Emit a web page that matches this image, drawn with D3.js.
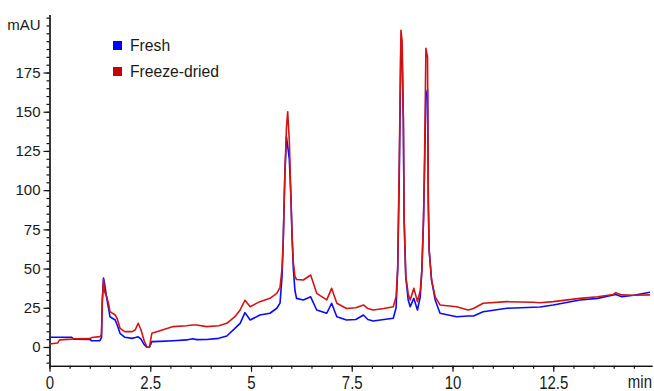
<!DOCTYPE html>
<html>
<head>
<meta charset="utf-8">
<script src="https://cdn.jsdelivr.net/npm/d3@7"></script>
<style>
  body { margin: 0; background: #fff; }
  svg { display: block; font-family: "Liberation Sans", Arial, sans-serif; }
</style>
</head>
<body>
<div id="chart"></div>
<script>
// retention time (min)
const times = [
  0, 0.2, 0.25, 0.55, 0.6, 1.0, 1.05, 1.25, 1.29, 1.31, 1.34, 1.37, 1.42, 1.47, 1.5, 1.63, 1.68, 1.75, 1.87,
  2.05, 2.13, 2.2, 2.27, 2.35, 2.42, 2.48, 2.54, 2.74, 3.07, 3.4, 3.55, 3.65, 3.9, 4.2, 4.4, 4.6, 4.73, 4.85,
  4.98, 5.22, 5.47, 5.64, 5.72, 5.77, 5.8, 5.84, 5.88, 5.91, 5.95, 5.99, 6.02, 6.05, 6.09, 6.13, 6.3, 6.48,
  6.63, 6.88, 7.0, 7.13, 7.37, 7.6, 7.79, 7.9, 8.03, 8.3, 8.53, 8.6, 8.64, 8.68, 8.72, 8.75, 8.78, 8.8, 8.84,
  8.9, 8.95, 9.04, 9.13, 9.2, 9.24, 9.28, 9.3, 9.34, 9.38, 9.4, 9.42, 9.48, 9.57, 9.69, 10.1, 10.39, 10.52,
  10.76, 11.35, 12.0, 12.17, 12.5, 13.16, 13.6, 13.99, 14.05, 14.2, 14.5, 14.9
];

// absorbance (mAU)
const fresh = [
  6.2, 6.2, 6.2, 6.2, 5.0, 4.8, 4.0, 4.0, 6, 30, 44, 40, 31, 24, 19.3, 17.2, 14, 8.7, 6.2,
  5.5, 6, 6.5, 5, 1.5, -0.2, -0.2, 3.4, 3.6, 4.0, 4.5, 5.3, 4.7, 4.8, 5.5, 7, 11.9, 15.1, 21.9,
  17.2, 20.4, 21.5, 24.7, 28, 45, 68, 110, 134, 128, 120, 96, 70, 50, 36, 31, 30, 32,
  23.6, 21.5, 27.9, 19.3, 17.2, 17.5, 20.4, 17.5, 16.6, 17.5, 18.3, 25, 50, 110, 195, 186, 145, 81, 45,
  30, 25.7, 31, 23.6, 32, 49, 81, 106, 160, 164, 92, 62, 42.7, 30, 21.5, 19.3, 19.8, 19.8,
  22.5, 24.7, 25.3, 25.5, 26.8, 30, 31, 33.2, 33.5, 32, 33, 34.9
];

const freezeDried = [
  1.9, 2.5, 4.5, 5.0, 5.2, 5.3, 6.0, 6.6, 8, 28, 43, 35, 32, 27, 22.5, 20.4, 18, 11.9, 9.8,
  9.8, 11, 15.1, 11, 4, -0.2, 0, 8.7, 10.4, 13, 13.5, 14, 14, 13, 13.5, 15.1, 19.3, 23.6, 29.8,
  25.7, 28.9, 31, 34.2, 38, 50, 68, 110, 140, 150, 132, 96, 70, 54, 45, 43, 42.7, 45.9,
  34.2, 30, 37.4, 27.9, 24.5, 25, 26.8, 24.5, 23.6, 24.5, 25.7, 32, 50, 120, 202, 195, 145, 81, 45,
  34, 30, 37.4, 28.9, 36, 49, 81, 106, 190.4, 185, 92, 62, 42.7, 32, 26.8, 25.7, 23.6, 24.5,
  27.9, 28.9, 28.5, 28.2, 28.9, 31, 32, 33.5, 34.6, 33.2, 33, 33.2
];

const yTicks = [0, 25, 50, 75, 100, 125, 150, 175];
const xTicks = [0, 2.5, 5, 7.5, 10, 12.5];
const seriesNames = ['Fresh', 'Freeze-dried'];
const seriesColors = ['#0a0aff', '#d41414'];

const width = 654;
const height = 391;

const svg = d3.select('#chart')
  .append('svg')
  .attr('width', width)
  .attr('height', height);

const xScale = d3.scaleLinear().domain([0, 14.95]).range([49.5, 652]);
const yScale = d3.scaleLinear().domain([-12, 212]).range([365.8, 14.5]);

// Axes: minor ticks first, then labelled major ticks
svg.append('g')
  .attr('transform', `translate(49.5, 0)`)
  .call(d3.axisLeft(yScale).tickValues(d3.range(-10, 211, 5)).tickSize(3).tickSizeOuter(0).tickFormat(''));

const yAxis = svg.append('g')
  .attr('transform', `translate(49.5, 0)`)
  .call(d3.axisLeft(yScale).tickValues(yTicks).tickSize(6).tickSizeOuter(0).tickPadding(3));

svg.append('g')
  .attr('transform', `translate(0, 365.8)`)
  .call(d3.axisBottom(xScale).tickValues(d3.range(0, 14.9, 0.5)).tickSize(3).tickSizeOuter(0).tickFormat(''));

const xAxis = svg.append('g')
  .attr('transform', `translate(0, 365.8)`)
  .call(d3.axisBottom(xScale).tickValues(xTicks).tickSize(6).tickSizeOuter(0).tickPadding(3)
    .tickFormat((d) => String(d)));

svg.selectAll('.domain, .tick line').attr('stroke', '#111').attr('stroke-width', 1.2);

yAxis.selectAll('text').attr('font-size', 15).attr('fill', '#1a1a1a').attr('font-family', null);
xAxis.selectAll('text')
  .attr('font-size', 15)
  .attr('fill', '#1a1a1a')
  .attr('font-family', null)
  .attr('transform', 'scale(1, 1.18)');

// Unit labels
svg.append('text')
  .attr('x', 40.5)
  .attr('y', 30)
  .attr('text-anchor', 'end')
  .attr('font-size', 15)
  .attr('fill', '#1a1a1a')
  .text('mAU');

// the reference clips this at the edge; kept just inside instead
svg.append('text')
  .attr('x', 652)
  .attr('y', 388.5 / 1.18)
  .attr('text-anchor', 'end')
  .attr('transform', 'scale(1, 1.18)')
  .attr('font-size', 15)
  .attr('fill', '#1a1a1a')
  .text('min');

// Traces
const line = d3.line()
  .x((d) => xScale(d[0]))
  .y((d) => yScale(d[1]));

[fresh, freezeDried].forEach((values, i) => {
  svg.append('path')
    .datum(times.map((t, j) => [t, values[j]]))
    .attr('fill', 'none')
    .attr('stroke', seriesColors[i])
    .attr('stroke-width', 1.6)
    .attr('stroke-linejoin', 'round')
    .attr('d', line);
});

// Legend
const legend = svg.append('g').attr('transform', 'translate(113, 41)');
seriesNames.forEach((name, i) => {
  legend.append('rect')
    .attr('x', 0)
    .attr('y', i * 26)
    .attr('width', 9)
    .attr('height', 9)
    .attr('fill', i === 0 ? '#0000ff' : '#c80000');
  legend.append('text')
    .attr('x', 17)
    .attr('y', i * 26 + 9.5)
    .attr('font-size', 15.7)
    .attr('fill', '#1a1a1a')
    .text(name);
});
</script>
</body>
</html>
